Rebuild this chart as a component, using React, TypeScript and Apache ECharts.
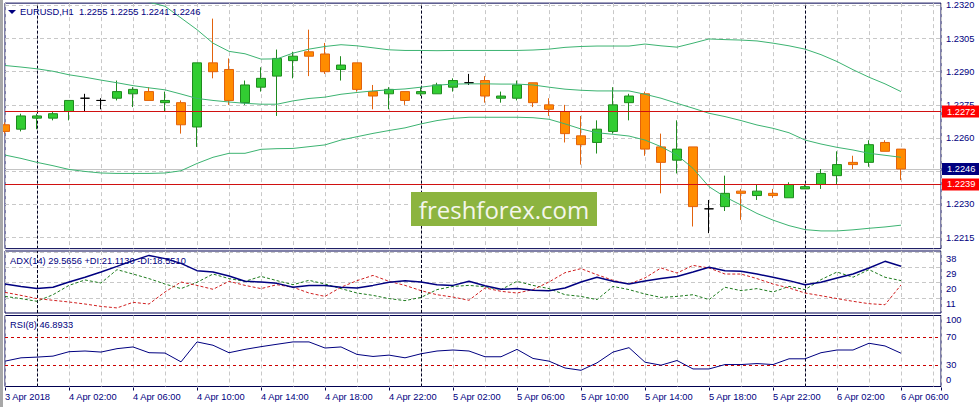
import React, { useEffect, useRef } from 'react';
import * as echarts from 'echarts';

// hourly bars, 3 Apr 22:00 .. 6 Apr 06:00
const timeLabels = [
  '3 Apr 2018', '4 Apr 02:00', '4 Apr 06:00', '4 Apr 10:00', '4 Apr 14:00',
  '4 Apr 18:00', '4 Apr 22:00', '5 Apr 02:00', '5 Apr 06:00', '5 Apr 10:00',
  '5 Apr 14:00', '5 Apr 18:00', '5 Apr 22:00', '6 Apr 02:00', '6 Apr 06:00',
];

const open = [
  1.2266, 1.2264, 1.2269, 1.2269, 1.2272, 1.2278, 1.2277, 1.2278, 1.2280, 1.2281,
  1.2276, 1.2276, 1.2265, 1.2294, 1.2291, 1.2276, 1.2283, 1.2288, 1.2295, 1.2299,
  1.2298, 1.2291, 1.2294, 1.2281, 1.2280, 1.2281, 1.2280, 1.2280, 1.2283, 1.2285,
  1.2286, 1.2278, 1.2278, 1.2285, 1.2275, 1.2272, 1.2261, 1.2258, 1.2263, 1.2276,
  1.2280, 1.2256, 1.2250, 1.2256, 1.2228, 1.2229, 1.2236, 1.2234, 1.2235, 1.2233,
  1.2237, 1.2239, 1.2243, 1.2249, 1.2249, 1.2258, 1.2255,
];
const high = [
  1.2267, 1.2271, 1.2271, 1.2272, 1.2277, 1.2280, 1.2278, 1.2286, 1.2283, 1.2283,
  1.2281, 1.2277, 1.2294, 1.2314, 1.2296, 1.2286, 1.2292, 1.2300, 1.2299, 1.2309,
  1.2303, 1.2297, 1.2294, 1.2284, 1.2283, 1.2281, 1.2283, 1.2285, 1.2287, 1.2289,
  1.2288, 1.2281, 1.2286, 1.2285, 1.2278, 1.2275, 1.2270, 1.2268, 1.2283, 1.2280,
  1.2281, 1.2262, 1.2268, 1.2256, 1.2232, 1.2243, 1.2237, 1.2239, 1.2237, 1.2240,
  1.2239, 1.2246, 1.2254, 1.2252, 1.2259, 1.2259, 1.2255,
];
const low = [
  1.2262, 1.2263, 1.2264, 1.2268, 1.2268, 1.2272, 1.2273, 1.2277, 1.2274, 1.2277,
  1.2272, 1.2262, 1.2256, 1.2287, 1.2275, 1.2275, 1.2281, 1.2270, 1.2287, 1.2288,
  1.2289, 1.2286, 1.2281, 1.2273, 1.2273, 1.2275, 1.2279, 1.2280, 1.2281, 1.2284,
  1.2276, 1.2276, 1.2277, 1.2274, 1.2270, 1.2258, 1.2248, 1.2253, 1.2262, 1.2268,
  1.2252, 1.2235, 1.2244, 1.2220, 1.2217, 1.2227, 1.2223, 1.2232, 1.2233, 1.2233,
  1.2237, 1.2237, 1.2239, 1.2246, 1.2247, 1.2254, 1.2241,
];
const close = [
  1.2263, 1.2270, 1.2270, 1.2271, 1.2277, 1.2278, 1.2277, 1.2281, 1.2282, 1.2277,
  1.2277, 1.2266, 1.2294, 1.2290, 1.2277, 1.2284, 1.2287, 1.2296, 1.2297, 1.2297,
  1.2290, 1.2293, 1.2282, 1.2279, 1.2282, 1.2277, 1.2281, 1.2284, 1.2286, 1.2285,
  1.2279, 1.2279, 1.2284, 1.2276, 1.2273, 1.2262, 1.2257, 1.2264, 1.2275, 1.2279,
  1.2255, 1.2249, 1.2255, 1.2229, 1.2228, 1.2235, 1.2235, 1.2236, 1.2234, 1.2239,
  1.2238, 1.2244, 1.2248, 1.2248, 1.2257, 1.2254, 1.2246,
];

// Bollinger bands
const bbUpper = [
  1.23333, 1.23333, 1.23336, 1.2333, 1.23314, 1.23301, 1.23282, 1.23259, 1.23235, 1.23214,
  1.23196, 1.23143, 1.2309, 1.23029, 1.22992, 1.22981, 1.22957, 1.22958, 1.22984, 1.23002,
  1.23014, 1.23022, 1.23017, 1.23008, 1.22999, 1.22996, 1.22996, 1.22995, 1.22996, 1.22996,
  1.22996, 1.22996, 1.22996, 1.22998, 1.23002, 1.2301, 1.23014, 1.23016, 1.23016, 1.23016,
  1.23025, 1.23017, 1.23011, 1.23029, 1.23048, 1.23045, 1.23043, 1.23039, 1.23029, 1.23017,
  1.23002, 1.22977, 1.22946, 1.22909, 1.22875, 1.22845, 1.2281,
];
const bbMiddle = [
  1.22928, 1.22921, 1.22913, 1.22902, 1.22886, 1.22875, 1.22862, 1.2285, 1.22837, 1.22827,
  1.22818, 1.22799, 1.22779, 1.2277, 1.22763, 1.22757, 1.22753, 1.22753, 1.22768, 1.22779,
  1.22785, 1.22798, 1.22806, 1.22813, 1.22818, 1.22822, 1.2283, 1.22839, 1.22844, 1.22845,
  1.22845, 1.22844, 1.22844, 1.2284, 1.2283, 1.22821, 1.22816, 1.22813, 1.22813, 1.22813,
  1.22798, 1.2278, 1.22757, 1.22735, 1.22712, 1.22697, 1.22679, 1.22659, 1.22644, 1.22624,
  1.22591, 1.22573, 1.22558, 1.22546, 1.22531, 1.22522, 1.22513,
];
const bbLower = [
  1.22523, 1.22508, 1.2249, 1.22475, 1.22458, 1.22449, 1.22442, 1.2244, 1.2244, 1.2244,
  1.22442, 1.22452, 1.22485, 1.22513, 1.22531, 1.22531, 1.22549, 1.22552, 1.22553, 1.22561,
  1.22569, 1.22591, 1.22606, 1.22621, 1.22634, 1.22646, 1.22664, 1.22679, 1.22689, 1.22694,
  1.22694, 1.22694, 1.22694, 1.22692, 1.22685, 1.22664, 1.22641, 1.22624, 1.22617, 1.22609,
  1.22591, 1.22561, 1.22523, 1.22463, 1.2238, 1.22334, 1.22297, 1.22259, 1.22229, 1.22204,
  1.22186, 1.2218, 1.2218, 1.22185, 1.22192, 1.22198, 1.22206,
];

const adx = [
  19.1, 17.7, 16.4, 17.2, 20.3, 23.1, 26.2, 29.5, 32.9, 36.0,
  34.1, 31.3, 27.0, 26.2, 23.8, 20.7, 20.3, 19.5, 17.2, 18.3,
  18.3, 17.2, 16.8, 18.3, 20.1, 21.1, 20.3, 18.7, 18.3, 20.7,
  18.1, 16.0, 16.4, 15.4, 15.2, 16.8, 20.3, 23.1, 20.7, 19.1,
  20.9, 22.3, 23.6, 26.2, 29.0, 27.0, 26.6, 25.0, 23.1, 21.1,
  18.7, 20.1, 22.7, 25.0, 28.6, 32.5, 29.5656,
];
const plusDi = [
  11.8, 10.5, 8.9, 12.8, 18.3, 21.5, 19.7, 27.6, 25.0, 22.3,
  19.1, 16.4, 20.1, 25.0, 22.3, 20.7, 23.6, 21.1, 18.7, 21.3,
  19.1, 16.4, 13.8, 12.4, 10.5, 9.3, 11.2, 15.8, 17.7, 18.3,
  17.5, 15.8, 20.7, 18.3, 16.4, 12.8, 11.8, 9.9, 17.7, 15.8,
  13.2, 11.2, 11.8, 12.8, 9.9, 17.2, 15.2, 16.4, 14.4, 17.7,
  15.8, 21.7, 26.2, 23.1, 27.6, 23.1, 21.113,
];
const minusDi = [
  14.2, 12.4, 10.5, 9.5, 8.5, 7.3, 5.9, 5.0, 8.3, 7.3,
  14.4, 20.3, 18.3, 16.0, 20.7, 18.3, 16.4, 18.7, 17.2, 13.8,
  11.8, 17.2, 21.1, 24.2, 20.7, 18.3, 15.2, 12.8, 11.4, 9.5,
  16.8, 14.8, 13.8, 15.8, 20.3, 25.8, 28.2, 24.6, 21.3, 19.1,
  22.7, 28.6, 25.6, 30.1, 28.6, 25.0, 25.0, 22.3, 19.1, 16.8,
  13.8, 12.2, 10.5, 8.9, 7.5, 6.9, 18.551,
];
const rsi = [
  35.7, 40.4, 41.4, 42.8, 49.0, 50.0, 48.5, 53.3, 55.7, 47.6,
  47.1, 34.7, 62.8, 58.1, 47.6, 52.3, 56.1, 59.5, 62.8, 62.8,
  54.2, 55.7, 45.2, 42.3, 44.2, 40.4, 46.1, 50.0, 51.4, 50.0,
  41.9, 41.9, 52.3, 39.5, 35.7, 26.1, 22.8, 33.3, 48.5, 54.7,
  34.2, 30.0, 36.6, 24.7, 24.7, 30.9, 30.9, 32.3, 30.9, 39.0,
  39.0, 47.6, 51.4, 51.4, 60.9, 57.1, 46.8933,
];

const priceLevels = [1.2215, 1.223, 1.2245, 1.226, 1.2275, 1.229, 1.2305, 1.232];
const redLines = [1.2272, 1.2239];
const adxLevels = [11, 20, 29, 38];
const rsiLevels = [30, 70];
const rsiLabels = [0, 30, 70, 100];
const daySeparators = [2, 26, 50];

const P = 10000; // price axis works in pips
const FONT = 'Liberation Sans';
const FS = 9.3;
const NAVY = '#000080';
const FRAME = '#000050';
const gridLine = { color: '#c8c8c8', type: [4, 3], width: 1 };
const sepLine = { color: '#000020', type: [3, 2], width: 1 };

export default function App() {
  const ref = useRef<HTMLDivElement>(null);

  useEffect(() => {
    if (!ref.current) return;
    const chart = echarts.init(ref.current, undefined, { renderer: 'svg' });
    const last = close.length - 1;
    const bid = Math.round(close[last] * P);
    const xs = (arr: number[], k = 1) => arr.map((v, i) => [i, v * k]);
    // the bid box covers the axis label next to it, as in the terminal
    const priceSet = new Set(priceLevels.map((p) => Math.round(p * P)).filter((v) => Math.abs(v - bid) > 2));
    const seps = daySeparators.map((i) => ({ xAxis: i, lineStyle: sepLine }));

    const xBase = {
      type: 'value',
      min: 0,
      max: 58.5,
      interval: 2,
      axisLine: { show: false },
      axisTick: { show: false },
      axisLabel: { show: false },
      splitLine: { show: true, lineStyle: gridLine },
    };
    const axisText = { color: NAVY, fontFamily: FONT, fontSize: FS };
    const frame = { show: true, borderColor: FRAME, borderWidth: 1, backgroundColor: 'transparent' };
    const boxLabel = (text: string, bg: string) => ({
      show: true,
      position: 'end',
      distance: 1,
      formatter: text,
      color: '#ffffff',
      backgroundColor: bg,
      padding: [2, 5, 1, 5],
      fontFamily: FONT,
      fontSize: FS,
    });
    const text = (t: string, x: number, y: number) => ({
      type: 'text',
      z: 200,
      x,
      y,
      style: { text: t, fill: NAVY, fontFamily: FONT, fontSize: FS, align: 'left', verticalAlign: 'middle' },
    });

    chart.setOption({
      animation: false,
      textStyle: { fontFamily: FONT },
      grid: [
        { left: 5, top: 3.13, width: 936, height: 245.5, ...frame },
        { left: 5, top: 251, width: 936, height: 62, ...frame },
        { left: 5, top: 315.5, width: 936, height: 71, ...frame },
        // time scale strip under the last pane
        { left: 5, top: 386.5, width: 936, height: 1, show: false },
      ],
      xAxis: [
        { ...xBase, gridIndex: 0 },
        { ...xBase, gridIndex: 1 },
        { ...xBase, gridIndex: 2 },
        {
          type: 'value',
          gridIndex: 3,
          position: 'top',
          min: 0,
          max: 58.5,
          interval: 4,
          axisLine: { show: false },
          splitLine: { show: false },
          axisTick: { show: true, inside: true, length: 3, lineStyle: { color: FRAME } },
          axisLabel: {
            ...axisText,
            show: true,
            inside: true,
            align: 'left',
            verticalAlign: 'middle',
            margin: 10,
            showMinLabel: true,
            formatter: (v: number) => (Number.isInteger(v) && v % 4 === 0 ? timeLabels[v / 4] ?? '' : ''),
          },
        },
      ],
      yAxis: [
        {
          type: 'value',
          gridIndex: 0,
          position: 'right',
          min: 12210,
          max: 12321,
          interval: 5,
          axisLine: { show: false },
          axisTick: { show: false },
          splitLine: { show: false },
          axisLabel: {
            ...axisText,
            margin: 5,
            formatter: (v: number) => (priceSet.has(Math.round(v)) && Math.abs(v - Math.round(v)) < 1e-6 ? (v / P).toFixed(4) : ''),
          },
        },
        {
          type: 'value',
          gridIndex: 1,
          position: 'right',
          min: 2,
          max: 38.6,
          interval: 1,
          axisLine: { show: false },
          axisTick: { show: false },
          splitLine: { show: false },
          axisLabel: {
            ...axisText,
            margin: 5,
            verticalAlign: 'top',
            padding: [2, 0, 0, 0],
            formatter: (v: number) => (adxLevels.includes(v) ? String(v) : ''),
          },
        },
        {
          type: 'value',
          gridIndex: 2,
          position: 'right',
          min: 0,
          max: 100,
          interval: 10,
          axisLine: { show: false },
          axisTick: { show: false },
          splitLine: { show: false },
          axisLabel: {
            ...axisText,
            margin: 5,
            showMaxLabel: true,
            verticalAlignMaxLabel: 'top',
            // the axis drops its bottom label, so "0" is set as a text below
            formatter: (v: number) => (v > 0 && rsiLabels.includes(v) ? String(v) : ''),
          },
        },
        { type: 'value', gridIndex: 3, show: false, min: 0, max: 1 },
      ],
      series: [
        {
          type: 'line',
          name: 'BB upper',
          xAxisIndex: 0,
          yAxisIndex: 0,
          data: xs(bbUpper, P),
          symbol: 'none',
          lineStyle: { color: '#3CB371', width: 1 },
        },
        {
          type: 'line',
          name: 'BB middle',
          xAxisIndex: 0,
          yAxisIndex: 0,
          data: xs(bbMiddle, P),
          symbol: 'none',
          lineStyle: { color: '#3CB371', width: 1 },
          markLine: {
            silent: true,
            symbol: 'none',
            z: 1,
            label: { show: false },
            data: [
              ...priceLevels.map((p) => ({ yAxis: Math.round(p * P), lineStyle: gridLine })),
              ...seps,
              {
                yAxis: bid,
                lineStyle: { color: '#c4c4c4', type: 'solid', width: 1 },
                label: boxLabel(close[last].toFixed(4), NAVY),
              },
            ],
          },
        },
        {
          type: 'line',
          name: 'BB lower',
          xAxisIndex: 0,
          yAxisIndex: 0,
          data: xs(bbLower, P),
          symbol: 'none',
          lineStyle: { color: '#3CB371', width: 1 },
        },
        {
          type: 'candlestick',
          name: 'EURUSD,H1',
          xAxisIndex: 0,
          yAxisIndex: 0,
          encode: { x: 0, y: [1, 2, 3, 4] },
          data: open.map((o, i) => [i, o * P, close[i] * P, low[i] * P, high[i] * P]),
          barWidth: 10,
          itemStyle: {
            color: '#32CD32',
            color0: '#FF8C00',
            borderColor: '#1E8A1E',
            borderColor0: '#E2620C',
            borderColorDoji: '#000000',
            borderWidth: 1,
          },
          markLine: {
            silent: true,
            symbol: 'none',
            z: 5,
            data: redLines.map((p) => ({
              yAxis: Math.round(p * P),
              lineStyle: { color: '#D01010', type: 'solid', width: 1 },
              label: boxLabel(p.toFixed(4), '#FF0000'),
            })),
          },
        },
        {
          type: 'line',
          name: 'ADX',
          xAxisIndex: 1,
          yAxisIndex: 1,
          data: xs(adx),
          symbol: 'none',
          z: 4,
          lineStyle: { color: NAVY, width: 1.5 },
          markLine: {
            silent: true,
            symbol: 'none',
            z: 1,
            label: { show: false },
            data: [...adxLevels.map((v) => ({ yAxis: v, lineStyle: gridLine })), ...seps],
          },
        },
        {
          type: 'line',
          name: '+DI',
          xAxisIndex: 1,
          yAxisIndex: 1,
          data: xs(plusDi),
          symbol: 'none',
          lineStyle: { color: '#1E7B1E', width: 1, type: [3, 2] },
        },
        {
          type: 'line',
          name: '-DI',
          xAxisIndex: 1,
          yAxisIndex: 1,
          data: xs(minusDi),
          symbol: 'none',
          lineStyle: { color: '#D02020', width: 1, type: [3, 2] },
        },
        {
          type: 'line',
          name: 'RSI',
          xAxisIndex: 2,
          yAxisIndex: 2,
          data: xs(rsi),
          symbol: 'none',
          z: 4,
          lineStyle: { color: NAVY, width: 1 },
          markLine: {
            silent: true,
            symbol: 'none',
            z: 3,
            label: { show: false },
            data: [
              ...rsiLevels.map((v) => ({ yAxis: v, lineStyle: { color: '#CC0000', type: [3, 3], width: 1 } })),
              ...seps,
            ],
          },
        },
      ],
      graphic: {
        elements: [
          { type: 'rect', z: 100, shape: { x: 0, y: 0, width: 3, height: 407 }, style: { fill: '#a8a8a8' } },
          { type: 'polygon', z: 100, shape: { points: [[8, 10], [16, 10], [12, 14]] }, style: { fill: NAVY } },
          text(`EURUSD,H1  ${[open[last], high[last], low[last], close[last]].map((v) => v.toFixed(4)).join(' ')}`, 20, 12),
          text(`ADX(14) ${adx[last].toFixed(4)} +DI:${plusDi[last].toFixed(4)} -DI:${minusDi[last].toFixed(4)}`, 10, 261),
          text(`RSI(8) ${rsi[last].toFixed(4)}`, 10, 325),
          text(`${rsiLabels[0]}`, 946, 379.5),
          { type: 'rect', z: 100, shape: { x: 411, y: 192, width: 186, height: 34 }, style: { fill: '#8CB43F' } },
          {
            type: 'text',
            z: 101,
            x: 504,
            y: 209,
            style: {
              text: 'freshforex.com',
              fill: '#F4F6EC',
              fontFamily: 'Open Sans',
              fontSize: 24,
              align: 'center',
              verticalAlign: 'middle',
            },
          },
        ],
      },
    });
    return () => chart.dispose();
  }, []);

  return <div ref={ref} style={{ position: 'fixed', left: 0, top: 0, width: 979, height: 407, background: '#fff' }} />;
}
